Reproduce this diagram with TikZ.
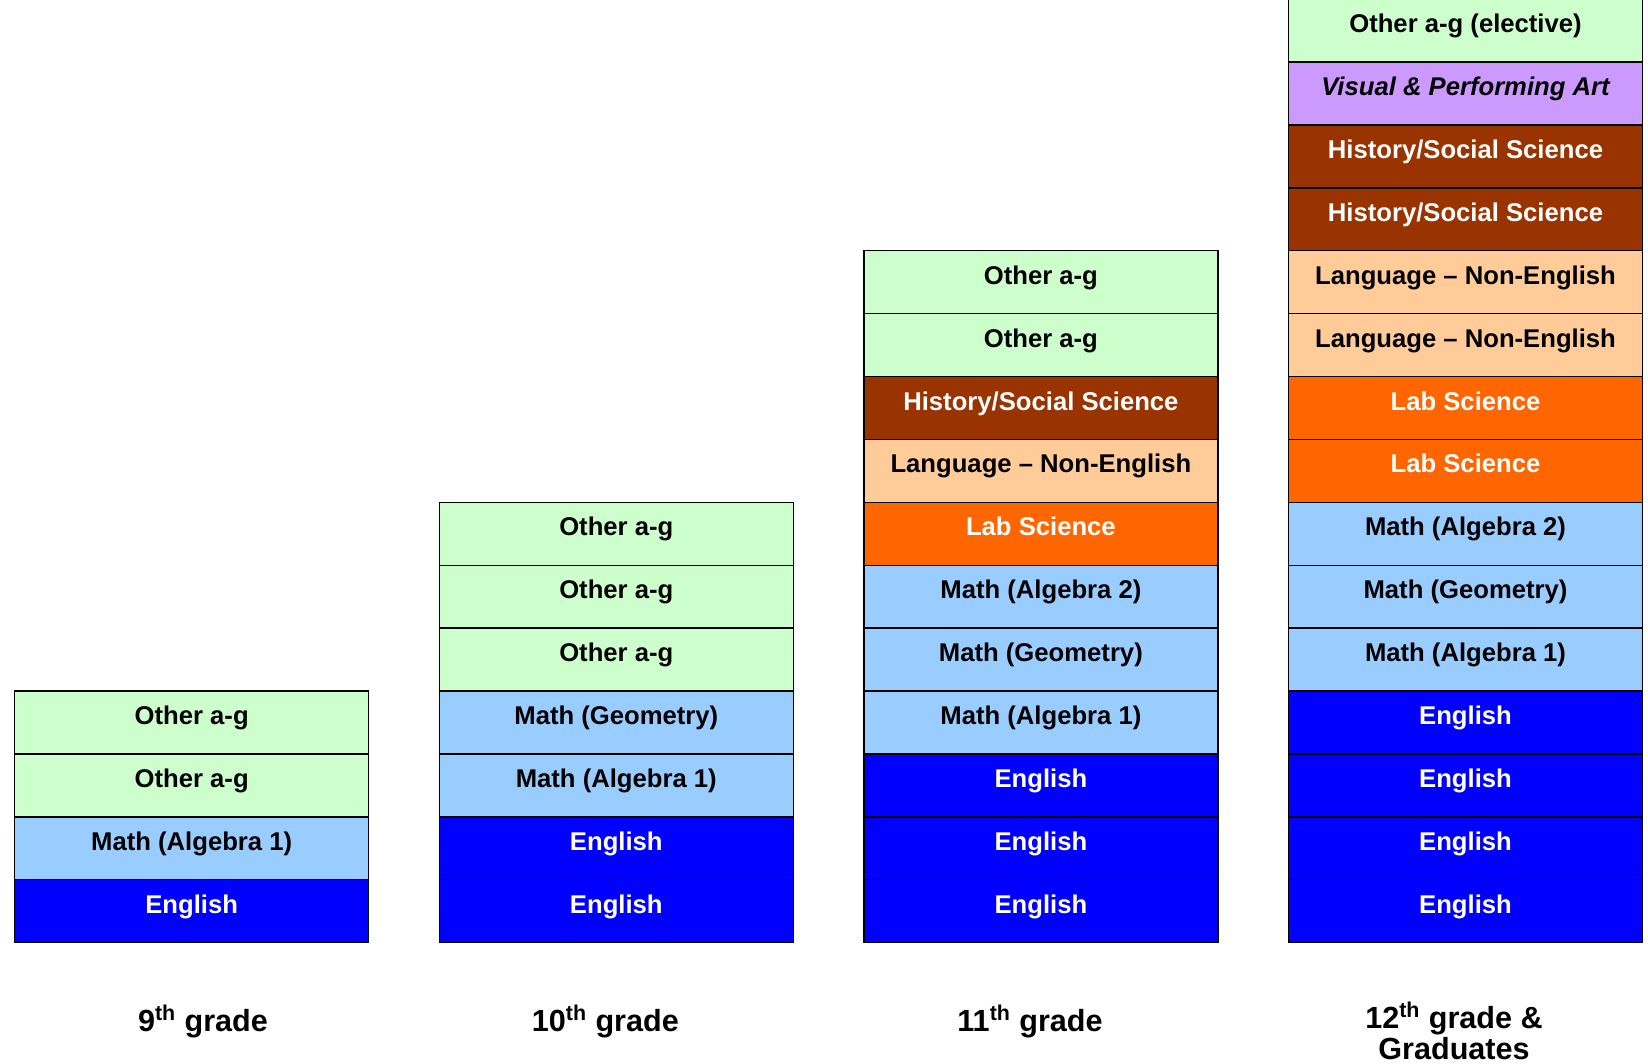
\documentclass[tikz,border=0pt]{standalone}
\usepackage{fontspec}
\setmainfont{Liberation Sans}
\usetikzlibrary{positioning}
\definecolor{othergreen}{RGB}{204,255,204}
\definecolor{mathblue}{RGB}{153,204,255}
\definecolor{englishblue}{RGB}{0,0,255}
\definecolor{historybrown}{RGB}{153,51,0}
\definecolor{langpeach}{RGB}{255,204,153}
\definecolor{laborange}{RGB}{255,102,0}
\definecolor{artviolet}{RGB}{204,153,255}
\tikzset{
  coursebox/.style={draw=black, line width=0.8pt, minimum width=7.08cm, minimum height=1.258cm,
    inner sep=0pt, outer sep=0pt, text height=0.4cm, text depth=0.32cm,
    font=\fontsize{14.6}{17}\selectfont\bfseries},
  otherbox/.style={coursebox, fill=othergreen},
  mathbox/.style={coursebox, fill=mathblue},
  englishbox/.style={coursebox, fill=englishblue, text=white},
  historybox/.style={coursebox, fill=historybrown, text=white},
  langbox/.style={coursebox, fill=langpeach},
  labbox/.style={coursebox, fill=laborange, text=white},
  artbox/.style={coursebox, fill=artviolet, font=\fontsize{14.6}{17}\selectfont\bfseries\itshape},
  gradelabel/.style={font=\fontsize{17.4}{18}\selectfont\bfseries, anchor=base, align=center}
}

\begin{document}
\begin{tikzpicture}[node distance=0pt]
\useasboundingbox (0,0) rectangle (32.96,21.28);

\node[englishbox] (nineA) at (3.834,3.055) {English};
\node[mathbox, above=of nineA] (nineB) {Math (Algebra 1)};
\node[otherbox, above=of nineB] (nineC) {Other a-g};
\node[otherbox, above=of nineC] (nineD) {Other a-g};

\node[englishbox] (tenA) at (12.326,3.055) {English};
\node[englishbox, above=of tenA] (tenB) {English};
\node[mathbox, above=of tenB] (tenC) {Math (Algebra 1)};
\node[mathbox, above=of tenC] (tenD) {Math (Geometry)};
\node[otherbox, above=of tenD] (tenE) {Other a-g};
\node[otherbox, above=of tenE] (tenF) {Other a-g};
\node[otherbox, above=of tenF] (tenG) {Other a-g};

\node[englishbox] (elevA) at (20.818,3.055) {English};
\node[englishbox, above=of elevA] (elevB) {English};
\node[englishbox, above=of elevB] (elevC) {English};
\node[mathbox, above=of elevC] (elevD) {Math (Algebra 1)};
\node[mathbox, above=of elevD] (elevE) {Math (Geometry)};
\node[mathbox, above=of elevE] (elevF) {Math (Algebra 2)};
\node[labbox, above=of elevF] (elevG) {Lab Science};
\node[langbox, above=of elevG] (elevH) {Language -- Non-English};
\node[historybox, above=of elevH] (elevI) {History/Social Science};
\node[otherbox, above=of elevI] (elevJ) {Other a-g};
\node[otherbox, above=of elevJ] (elevK) {Other a-g};

\node[englishbox] (twelvA) at (29.31,3.055) {English};
\node[englishbox, above=of twelvA] (twelvB) {English};
\node[englishbox, above=of twelvB] (twelvC) {English};
\node[englishbox, above=of twelvC] (twelvD) {English};
\node[mathbox, above=of twelvD] (twelvE) {Math (Algebra 1)};
\node[mathbox, above=of twelvE] (twelvF) {Math (Geometry)};
\node[mathbox, above=of twelvF] (twelvG) {Math (Algebra 2)};
\node[labbox, above=of twelvG] (twelvH) {Lab Science};
\node[labbox, above=of twelvH] (twelvI) {Lab Science};
\node[langbox, above=of twelvI] (twelvJ) {Language -- Non-English};
\node[langbox, above=of twelvJ] (twelvK) {Language -- Non-English};
\node[historybox, above=of twelvK] (twelvL) {History/Social Science};
\node[historybox, above=of twelvL] (twelvM) {History/Social Science};
\node[artbox, above=of twelvM] (twelvN) {Visual \& Performing Art};
\node[otherbox, above=of twelvN] (twelvO) {Other a-g (elective)};

\node[gradelabel] (nineLbl) at (4.06,0.64) {9\textsuperscript{th} grade};
\node[gradelabel] (tenLbl) at (12.108,0.64) {10\textsuperscript{th} grade};
\node[gradelabel] (elevLbl) at (20.6,0.64) {11\textsuperscript{th} grade};
\node[gradelabel] (twelvLbl) at (29.08,0.08) {12\textsuperscript{th} grade \&\\Graduates};
\end{tikzpicture}
\end{document}
